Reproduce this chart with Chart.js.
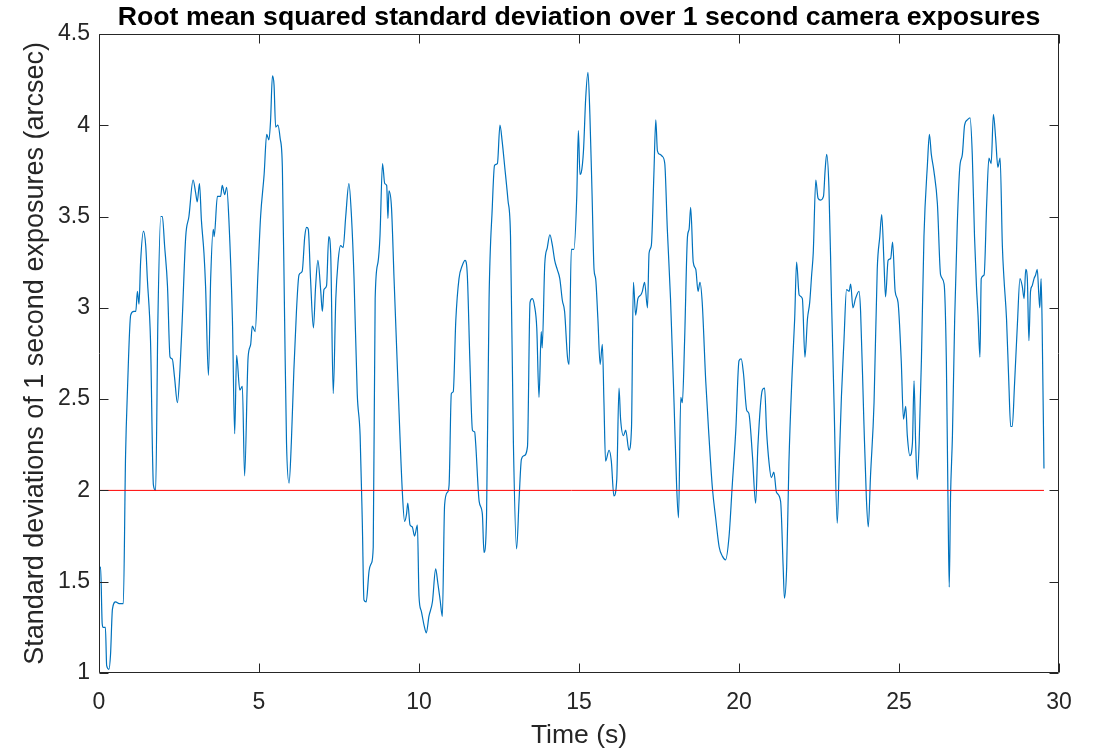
<!DOCTYPE html>
<html>
<head>
<meta charset="utf-8">
<script src="https://cdn.jsdelivr.net/npm/chart.js@4.4.1/dist/chart.umd.min.js"></script>
<style>
html,body{margin:0;padding:0;background:#ffffff;}
canvas{display:block;}
</style>
</head>
<body>
<canvas id="c" width="1102" height="752"></canvas>
<script>
// ---- data ----
const times = [
 0.00,0.05,0.10,0.13,0.20,0.24,0.31,0.36,0.42,0.52,0.63,0.76,0.83,0.89,0.99,1.09,1.15,1.20,1.25,1.30,
 1.39,1.46,1.51,1.61,1.70,1.77,1.84,1.93,1.98,2.05,2.14,2.22,2.29,2.36,2.45,2.53,2.60,2.71,2.81,2.94,
 3.02,3.07,3.14,3.20,3.28,3.33,3.42,3.49,3.57,3.60,3.70,3.80,3.85,3.93,3.99,4.06,4.17,4.24,4.30,4.40,
 4.48,4.55,4.66,4.74,4.79,4.88,4.97,5.05,5.16,5.24,5.31,5.36,5.42,5.47,5.52,5.59,5.66,5.73,5.80,5.86,
 5.94,6.01,6.09,6.17,6.25,6.35,6.43,6.49,6.54,6.61,6.70,6.77,6.84,6.93,6.98,7.03,7.11,7.18,7.24,7.32,
 7.40,7.47,7.55,7.63,7.71,7.81,7.89,7.97,8.07,8.16,8.23,8.28,8.35,8.44,8.51,8.57,8.63,8.72,8.78,8.86,
 8.93,8.99,9.03,9.06,9.14,9.22,9.34,9.48,9.55,9.61,9.65,9.72,9.79,9.86,9.95,10.00,10.07,10.16,10.23,10.31,
 10.42,10.52,10.59,10.66,10.73,10.80,10.89,10.94,11.01,11.07,11.15,11.25,11.35,11.44,11.51,11.59,11.67,11.74,11.77,11.88,
 11.98,12.03,12.11,12.19,12.29,12.36,12.45,12.53,12.60,12.68,12.78,12.86,12.95,13.05,13.13,13.20,13.28,13.39,13.47,13.54,
 13.61,13.68,13.75,13.82,13.85,13.93,14.01,14.09,14.17,14.24,14.32,14.40,14.48,14.55,14.64,14.69,14.76,14.84,14.93,14.98,
 15.03,15.07,15.14,15.21,15.28,15.34,15.41,15.47,15.52,15.59,15.66,15.73,15.78,15.83,15.94,16.01,16.09,16.18,16.25,16.30,
 16.39,16.46,16.56,16.64,16.70,16.77,16.84,16.93,16.98,17.05,17.14,17.19,17.26,17.34,17.40,17.45,17.53,17.60,17.68,17.76,
 17.86,17.97,18.05,18.11,18.18,18.23,18.30,18.39,18.44,18.49,18.57,18.65,18.72,18.78,18.85,18.96,19.06,19.17,19.27,19.38,
 19.48,19.58,19.69,19.79,19.90,20.00,20.07,20.14,20.24,20.31,20.42,20.52,20.59,20.73,20.80,20.86,20.94,21.01,21.09,21.17,
 21.30,21.38,21.42,21.49,21.56,21.66,21.74,21.80,21.88,21.98,22.06,22.14,22.21,22.27,22.32,22.40,22.47,22.55,22.64,22.69,
 22.74,22.81,22.89,22.97,23.07,23.14,23.20,23.28,23.36,23.44,23.49,23.56,23.64,23.75,23.80,23.90,23.98,24.04,24.11,24.22,
 24.32,24.40,24.46,24.53,24.58,24.66,24.74,24.80,24.88,24.97,25.07,25.14,25.21,25.26,25.34,25.42,25.47,25.52,25.57,25.63,
 25.70,25.78,25.89,25.95,26.01,26.09,26.20,26.30,26.41,26.48,26.53,26.57,26.61,26.67,26.74,26.82,26.90,26.98,27.05,27.14,
 27.22,27.29,27.36,27.42,27.47,27.53,27.57,27.66,27.74,27.81,27.88,27.95,28.02,28.09,28.16,28.23,28.28,28.36,28.43,28.49,
 28.54,28.61,28.70,28.78,28.85,28.91,28.96,29.01,29.06,29.11,29.16,29.22,29.27,29.32,29.37,29.40,29.44,29.47,29.53
];
const rmsStd = [
 1.57,1.58,1.27,1.25,1.25,1.04,1.02,1.10,1.35,1.39,1.38,1.38,2.19,2.55,2.96,2.98,2.98,3.09,3.02,3.25,
 3.42,3.34,3.16,2.82,2.03,2.00,2.93,3.50,3.50,3.34,3.12,2.73,2.72,2.62,2.48,2.66,2.93,3.39,3.50,3.70,
 3.63,3.58,3.68,3.48,3.30,3.12,2.63,3.16,3.43,3.39,3.61,3.61,3.67,3.62,3.66,3.48,2.93,2.31,2.74,2.55,
 2.57,2.08,2.73,2.80,2.90,2.87,3.20,3.50,3.73,3.95,3.92,4.02,4.27,4.22,3.99,4.00,3.93,3.77,2.94,2.26,
 2.04,2.26,2.66,2.98,3.18,3.20,3.39,3.44,3.43,3.16,2.89,3.12,3.26,3.09,2.98,3.10,3.12,3.39,3.30,2.53,
 3.05,3.25,3.34,3.33,3.50,3.68,3.50,3.16,2.53,2.30,1.81,1.40,1.39,1.56,1.60,1.69,3.05,3.25,3.39,3.79,
 3.68,3.67,3.49,3.64,3.55,3.16,2.60,1.99,1.83,1.87,1.93,1.81,1.80,1.75,1.81,1.42,1.34,1.26,1.22,1.31,
 1.39,1.57,1.49,1.40,1.31,1.92,1.99,2.03,2.53,2.54,2.93,3.16,3.23,3.26,3.18,2.71,2.33,2.32,2.26,1.94,
 1.87,1.66,1.85,3.05,3.55,3.78,3.79,4.00,3.91,3.77,3.59,3.39,2.26,1.68,1.96,2.17,2.19,2.24,3.03,3.05,
 3.01,2.89,2.51,2.87,2.78,3.24,3.33,3.40,3.34,3.26,3.21,3.16,3.04,2.98,2.73,2.69,3.32,3.32,3.61,3.97,
 3.73,3.74,3.86,4.15,4.29,4.06,3.61,3.21,3.16,2.94,2.69,2.80,2.48,2.16,2.22,2.16,1.97,2.06,2.56,2.39,
 2.30,2.33,2.22,2.34,3.14,2.96,3.05,3.07,3.09,3.14,3.00,3.30,3.34,3.73,4.03,3.86,3.84,3.83,3.79,3.43,
 3.05,2.48,2.03,1.85,2.51,2.48,2.82,3.39,3.43,3.55,3.25,3.21,3.09,3.14,3.03,2.60,2.30,2.01,1.85,1.69,
 1.64,1.62,1.75,2.03,2.33,2.71,2.72,2.64,2.44,2.42,2.19,1.93,2.24,2.55,2.56,2.33,2.15,2.07,2.10,1.99,
 1.94,1.58,1.41,1.58,2.15,2.64,2.94,3.25,3.07,3.05,2.73,2.94,3.03,3.18,3.30,3.70,3.60,3.59,3.61,3.75,
 3.84,3.66,3.05,2.48,1.82,2.19,2.51,2.82,3.10,3.09,3.13,3.00,3.05,3.09,2.98,2.39,1.96,1.80,2.08,2.48,
 3.21,3.39,3.51,3.25,3.06,3.26,3.27,3.36,3.09,3.03,2.71,2.39,2.46,2.30,2.19,2.26,2.60,2.26,2.06,2.26,
 2.71,3.39,3.79,3.95,3.84,3.75,3.57,3.18,3.13,2.71,1.96,1.47,1.96,2.30,2.94,3.45,3.77,3.84,4.00,4.03,
 4.04,3.84,3.39,3.12,2.96,2.73,3.16,3.18,3.57,3.82,3.79,4.06,3.93,3.77,3.82,3.34,3.16,2.94,2.60,2.35,
 2.35,2.58,2.91,3.16,3.12,3.05,3.21,3.16,2.82,3.09,3.12,3.16,3.18,3.21,3.07,3.00,3.16,2.94,2.12
];
const thresholdTimes = [0, 29.53];
const thresholdValues = [2, 2];
const xTickValues = [0, 5, 10, 15, 20, 25, 30];
const yTickValues = [1, 1.5, 2, 2.5, 3, 3.5, 4, 4.5];
const titleText = 'Root mean squared standard deviation over 1 second camera exposures';
const xLabel = 'Time (s)';
const yLabel = 'Standard deviations of 1 second exposures (arcsec)';

const FONT = '"Liberation Sans", Arial, Helvetica, sans-serif';
const AXIS_COLOR = '#262626';

const framePlugin = {
  id: 'matlabFrame',
  afterDatasetsDraw(chart) {
    const { ctx, chartArea: a, scales: { x, y } } = chart;
    const tl = 9;
    ctx.save();
    ctx.strokeStyle = AXIS_COLOR;
    ctx.lineWidth = 1;
    const L = Math.round(a.left) + 0.5, R = Math.round(a.right) - 0.5;
    const T = Math.round(a.top) + 0.5, B = Math.round(a.bottom) - 0.5;
    ctx.beginPath();
    ctx.rect(L, T, R - L, B - T);
    xTickValues.forEach(v => {
      const px = Math.round(x.getPixelForValue(v)) + 0.5;
      ctx.moveTo(px, B); ctx.lineTo(px, B - tl);
      ctx.moveTo(px, T); ctx.lineTo(px, T + tl);
    });
    yTickValues.forEach(v => {
      const py = Math.round(y.getPixelForValue(v)) + 0.5;
      ctx.moveTo(L, py); ctx.lineTo(L + tl, py);
      ctx.moveTo(R, py); ctx.lineTo(R - tl, py);
    });
    ctx.stroke();
    ctx.restore();
  }
};

new Chart(document.getElementById('c'), {
  type: 'line',
  data: {
    datasets: [
      {
        label: 'threshold',
        data: thresholdTimes.map((t, i) => ({ x: t, y: thresholdValues[i] })),
        borderColor: '#ff0000',
        borderWidth: 1,
        pointRadius: 0,
        tension: 0,
        order: 0
      },
      {
        label: 'rms std',
        data: times.map((t, i) => ({ x: t, y: rmsStd[i] })),
        borderColor: '#0072bd',
        borderWidth: 1.2,
        pointRadius: 0,
        cubicInterpolationMode: 'monotone',
        order: 1
      }
    ]
  },
  options: {
    responsive: false,
    animation: false,
    events: [],
    layout: { padding: { left: 0, right: 43, top: 0, bottom: 0 } },
    plugins: {
      legend: { display: false },
      tooltip: { enabled: false },
      title: {
        display: true,
        fullSize: false,
        text: titleText,
        color: '#000000',
        font: { family: FONT, size: 26.7, weight: 'bold', lineHeight: 1.12 },
        padding: { top: 3, bottom: 1 }
      }
    },
    scales: {
      x: {
        type: 'linear',
        min: 0, max: 30,
        afterFit(scale) { scale.height = 79; },
        afterBuildTicks(scale) { scale.ticks = xTickValues.map(v => ({ value: v })); },
        grid: { display: false, drawTicks: false },
        border: { display: false },
        ticks: { color: AXIS_COLOR, font: { family: FONT, size: 23 }, padding: 16, maxRotation: 0,
                 callback: v => String(v) },
        title: { display: true, text: xLabel, color: AXIS_COLOR, font: { family: FONT, size: 26.5, lineHeight: 1.2 }, padding: { top: 0, bottom: 0 } }
      },
      y: {
        type: 'linear',
        min: 1, max: 4.5,
        afterFit(scale) { scale.width = 99; },
        afterBuildTicks(scale) { scale.ticks = yTickValues.map(v => ({ value: v })); },
        grid: { display: false, drawTicks: false },
        border: { display: false },
        ticks: { color: AXIS_COLOR, font: { family: FONT, size: 23 }, padding: 9,
                 callback: v => String(v) },
        title: { display: true, text: yLabel, color: AXIS_COLOR, font: { family: FONT, size: 27, lineHeight: 1.2 }, padding: { top: 19, bottom: 0 } }
      }
    }
  },
  plugins: [framePlugin]
});
</script>
</body>
</html>
